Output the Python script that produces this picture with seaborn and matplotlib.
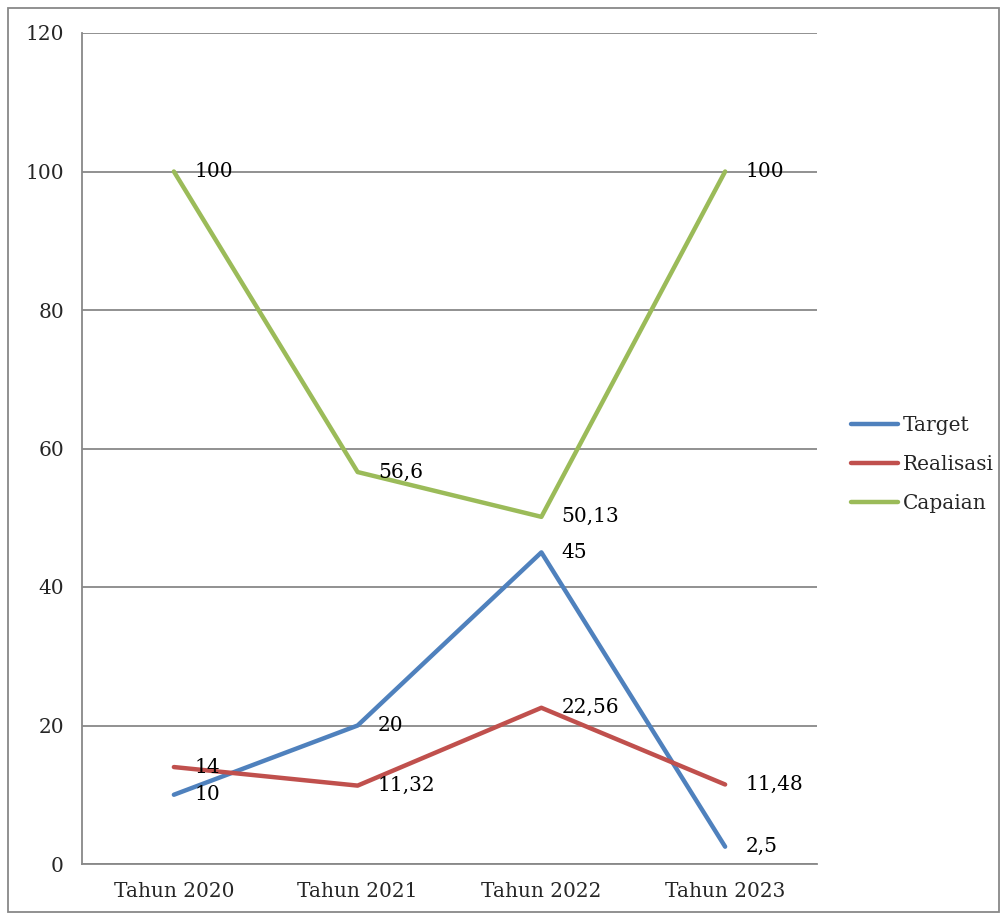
import seaborn as sns
import pandas as pd
import matplotlib.pyplot as plt
from matplotlib.patches import Rectangle

years = ["Tahun 2020", "Tahun 2021", "Tahun 2022", "Tahun 2023"]
target = [10, 20, 45, 2.5]
realisasi = [14, 11.32, 22.56, 11.48]
capaian = [100, 56.6, 50.13, 100]

series = {"Target": target, "Realisasi": realisasi, "Capaian": capaian}
colors = {"Target": "#4F81BD", "Realisasi": "#C0504D", "Capaian": "#9BBB59"}

rows = []
for name, vals in series.items():
    for i, v in enumerate(vals):
        rows.append({"Tahun": i, "Nilai": v, "Seri": name})
df = pd.DataFrame(rows)

sns.set_style("white")
plt.rcParams["font.family"] = ["DejaVu Serif"]
fs = 14.5

fig = plt.figure(figsize=(10.03, 9.14), dpi=100)
ax = fig.add_axes([82 / 1003, 50 / 914, 735 / 1003, 831 / 914])

sns.lineplot(data=df, x="Tahun", y="Nilai", hue="Seri", palette=colors,
             linewidth=3.2, ax=ax, legend=True)
for line in ax.get_lines():
    line.set_solid_capstyle("round")

# data labels to the right of each point, like excel
for name, vals in series.items():
    for i, v in enumerate(vals):
        lbl = ("%g" % v).replace(".", ",")
        ax.annotate(lbl, (i, v), xytext=(14.5, 0), textcoords="offset points",
                    ha="left", va="center", fontsize=fs, color="black")

ax.set_xlim(-0.5, 3.5)
ax.set_ylim(0, 120)
ax.set_yticks(range(0, 121, 20))
ax.set_xticks([0, 1, 2, 3])
ax.set_xticklabels(years)
ax.set_xticks([-0.5, 0.5, 1.5, 2.5, 3.5], minor=True)
ax.tick_params(axis="x", which="major", length=0, pad=13, labelsize=fs)
ax.tick_params(axis="x", which="minor", length=7, color="#888888", width=1.3)
ax.tick_params(axis="y", length=7, color="#888888", width=1.3, pad=6, labelsize=fs)
ax.yaxis.grid(True, color="#888888", linewidth=1.3)
ax.set_axisbelow(True)
ax.set_xlabel("")
ax.set_ylabel("")
for s in ["top", "right"]:
    ax.spines[s].set_visible(False)
for s in ["left", "bottom"]:
    ax.spines[s].set_color("#888888")
    ax.spines[s].set_linewidth(1.3)

handles, labels = ax.get_legend_handles_labels()
for h in handles:
    h.set_linewidth(3.2)
ax.legend(handles, labels, loc="center left", bbox_to_anchor=(1.022, 0.481),
          frameon=False, fontsize=fs, handlelength=2.3, handletextpad=0.25,
          labelspacing=1.0)

fig.patches.append(Rectangle((8 / 1003, 2 / 914), 991 / 1003, 904 / 914,
                             transform=fig.transFigure, fill=False,
                             edgecolor="#888888", linewidth=1.3))

fig.savefig("out.png", dpi=100)
